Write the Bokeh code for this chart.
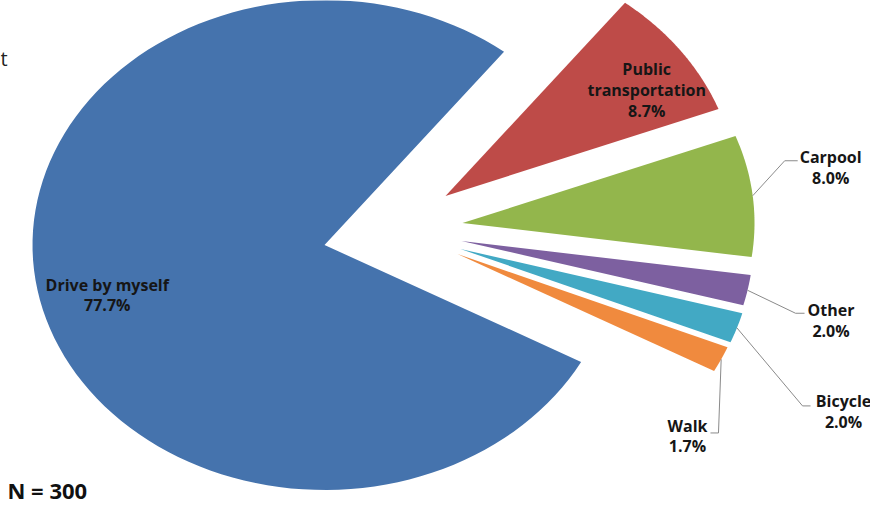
import numpy as np
from bokeh.plotting import figure
from bokeh.models import Range1d, ColumnDataSource
from bokeh.core.properties import value
from bokeh.embed import file_html
from bokeh.resources import INLINE

# ---- data ----
categories = ["Drive by myself", "Public transportation", "Carpool", "Other", "Bicycle", "Walk"]
shares = [77.7, 8.7, 8.0, 2.0, 2.0, 1.7]
sample_note = "N = 300"
clipped_text = "t"

# ---- style ----
colors = ["#4573AD", "#BE4B48", "#93B64C", "#7D60A0", "#42A9C4", "#F08A3E"]
W, H = 870, 505
cx, cy = 324, 260.5          # pie centre (screen px)
rx, ry = 292, 245            # pie radii (screen px)
start_deg = -28.5
explode_dx = [0, 121, 138, 137, 136, 133]
explode_dy = [0, 49, 22, 4, -4, -9]
label_f = [0.76, 0.82, 1, 1, 1, 1]
label_dx = [0, 8.5, 78, 83.5, 106.6, -33.7]
label_dy = [-12, -13, 28, -30, -84, -76.7]
leader = [None, None,
          [(32, 35), (45, 35)],
          [(48, -23), (57, -23)],
          [(65.6, -78), (73.6, -78)],
          [(-2.7, -73.7), (-10.7, -73.7)]]
wrap = [False, True, False, False, False, False]
FONT = value("Open Sans")

vals = np.array(shares, dtype=float)
frac = vals / vals.sum()
ends = start_deg - 360.0 * np.cumsum(frac)
starts = np.r_[start_deg, ends[:-1]]
mids = (starts + ends) / 2.0

xs, ys = [], []
for i in range(len(categories)):
    t = np.radians(np.linspace(starts[i], ends[i], 120))
    ax, ay = cx + explode_dx[i], cy + explode_dy[i]
    xs.append([ax] + list(ax + rx * np.cos(t)))
    ys.append([ay] + list(ay + ry * np.sin(t)))

p = figure(width=W, height=H, output_backend="svg", toolbar_location=None,
           x_range=Range1d(0, W), y_range=Range1d(0, H), min_border=0)
p.axis.visible = False
p.grid.visible = False
p.outline_line_color = None
p.background_fill_color = "white"

p.patches(xs=xs, ys=ys, fill_color=colors, line_color=None)

# labels
lx, ly, lt = [], [], []
lead_xs, lead_ys = [], []
for i, cat in enumerate(categories):
    m = np.radians(mids[i])
    ax, ay = cx + explode_dx[i], cy + explode_dy[i]
    px = ax + label_f[i] * rx * np.cos(m)
    py = ay + label_f[i] * ry * np.sin(m)
    name = cat.replace(" ", "\n", 1) if wrap[i] else cat
    lt.append(f"{name}\n{shares[i]:.1f}%")
    lx.append(px + label_dx[i])
    ly.append(py + label_dy[i])
    if leader[i] is not None:
        pts = [(px, py)] + [(px + dx, py + dy) for dx, dy in leader[i]]
        lead_xs.append([q[0] for q in pts])
        lead_ys.append([q[1] for q in pts])

p.multi_line(xs=lead_xs, ys=lead_ys, line_color="#8A8A8A", line_width=1)

src = ColumnDataSource(dict(x=lx, y=ly, text=lt))
p.text(x="x", y="y", text="text", source=src, text_align="center",
       text_baseline="middle", text_font=FONT, text_font_size="16px",
       text_font_style="bold", text_color="#161616", text_line_height=0.95)

p.text(x=[7], y=[1], text=[sample_note], text_align="left", text_baseline="bottom",
       text_font=FONT, text_font_size="22px", text_font_style="bold", text_color="#111111")
p.text(x=[0], y=[447], text=[clipped_text], text_align="left", text_baseline="middle",
       text_font=FONT, text_font_size="20px", text_color="#222222")

open("out.html", "w").write(file_html(p, INLINE))
